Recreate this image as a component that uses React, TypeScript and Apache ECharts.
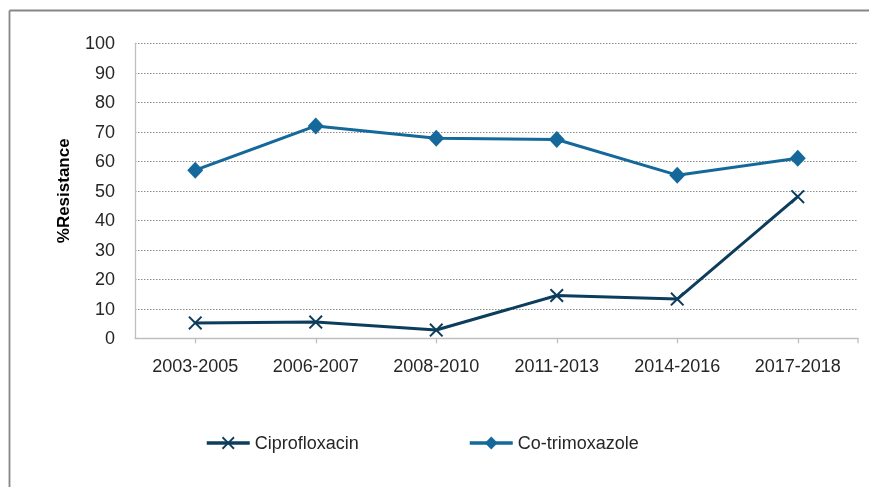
import React, { useEffect, useRef } from "react";
import * as echarts from "echarts";

const categories = ["2003-2005", "2006-2007", "2008-2010", "2011-2013", "2014-2016", "2017-2018"];
const ciprofloxacin = [5.2, 5.5, 2.8, 14.5, 13.3, 48];
const coTrimoxazole = [57, 72, 67.8, 67.4, 55.3, 61];
const seriesNames = ["Ciprofloxacin", "Co-trimoxazole"];
const yAxisTitle = "%Resistance";

const CIPRO = "#0D3D5C";
const COTRI = "#14699A";
const FONT = "Liberation Sans";
const TEXT = "#262626";
const X_SYMBOL = "path://M0,1 L1,0 L5,4 L9,0 L10,1 L6,5 L10,9 L9,10 L5,6 L1,10 L0,9 L4,5 Z";

const W = 869;
const H = 487;
const GRID = { left: 135, top: 43.3, right: 11, bottom: 148.7 };

export default function App() {
  const ref = useRef<HTMLDivElement>(null);
  useEffect(() => {
    if (!ref.current) return;
    const chart = echarts.init(ref.current, null, { renderer: "svg" });
    const axisRight = W - GRID.right;
    const axisY = H - GRID.bottom;
    const legendBase = {
      top: 429,
      itemWidth: 43,
      itemHeight: 16,
      itemGap: 5,
      lineStyle: { width: 3.5 },
      textStyle: { fontFamily: FONT, fontSize: 18, color: TEXT },
    };
    chart.setOption({
      animation: false,
      textStyle: { fontFamily: FONT },
      grid: { ...GRID, containLabel: false },
      graphic: [
        {
          type: "line",
          shape: { x1: 9.5, y1: 10.5, x2: W + 5, y2: 10.5 },
          style: { stroke: "#868686", lineWidth: 1.8 },
          silent: true,
        },
        {
          type: "line",
          shape: { x1: 9.5, y1: 10.5, x2: 9.5, y2: H + 5 },
          style: { stroke: "#868686", lineWidth: 1.8 },
          silent: true,
        },
        {
          type: "line",
          shape: { x1: axisRight, y1: axisY, x2: axisRight, y2: axisY + 5 },
          style: { stroke: "#BFBFBF", lineWidth: 1.3 },
          silent: true,
        },
      ],
      legend: [
        { ...legendBase, data: [seriesNames[0]], left: 200 },
        { ...legendBase, data: [seriesNames[1]], left: 463 },
      ],
      xAxis: {
        type: "category",
        data: categories,
        boundaryGap: true,
        axisLine: { lineStyle: { color: "#BFBFBF", width: 1.3 } },
        axisTick: { show: true, alignWithLabel: true, length: 5, lineStyle: { color: "#BFBFBF", width: 1.3 } },
        axisLabel: { margin: 19, fontFamily: FONT, fontSize: 18, color: TEXT },
        splitLine: { show: false },
      },
      yAxis: {
        type: "value",
        min: 0,
        max: 100,
        interval: 10,
        name: yAxisTitle,
        nameLocation: "middle",
        nameGap: 63,
        nameTextStyle: { fontFamily: FONT, fontSize: 17, fontWeight: "bold", color: "#000" },
        axisLine: { show: true, lineStyle: { color: "#BFBFBF", width: 1.3 } },
        axisTick: { show: false },
        axisLabel: { margin: 20, fontFamily: FONT, fontSize: 18, color: TEXT },
        splitLine: { show: true, lineStyle: { color: "#8C8C8C", width: 1, type: [1.5, 1.5] } },
      },
      series: [
        {
          name: seriesNames[0],
          type: "line",
          data: ciprofloxacin,
          symbol: X_SYMBOL,
          symbolSize: 14,
          lineStyle: { color: CIPRO, width: 3 },
          itemStyle: { color: CIPRO },
          z: 3,
        },
        {
          name: seriesNames[1],
          type: "line",
          data: coTrimoxazole,
          symbol: "diamond",
          symbolSize: [16, 17],
          lineStyle: { color: COTRI, width: 3 },
          itemStyle: { color: COTRI },
          z: 2,
        },
      ],
    });
    return () => chart.dispose();
  }, []);
  return (
    <div
      ref={ref}
      style={{ position: "fixed", left: 0, top: 0, width: W, height: H }}
    />
  );
}
